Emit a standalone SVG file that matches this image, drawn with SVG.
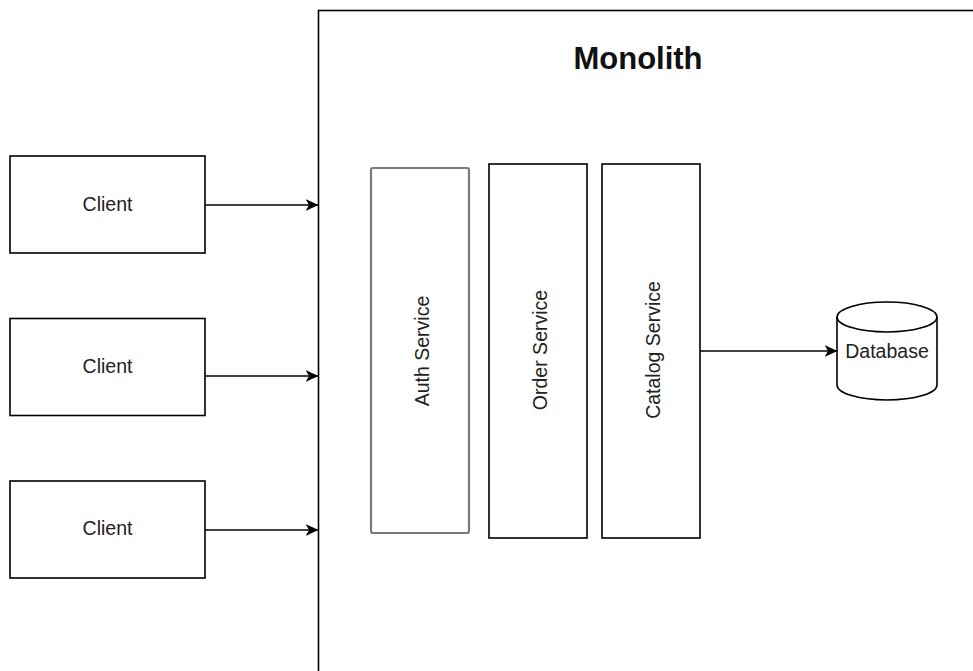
<svg xmlns="http://www.w3.org/2000/svg" width="973" height="671" viewBox="0 0 973 671">
<style>
.box{fill:#fff;stroke:#000;stroke-width:1.6}
.auth{fill:#fff;stroke:#7a7a7a;stroke-width:2.2}
.lbl{font-family:"Liberation Sans",Arial,sans-serif;font-size:19.5px;fill:#222;text-anchor:middle}
.title{font-family:"Liberation Sans",Arial,sans-serif;font-size:31px;font-weight:bold;fill:#111;text-anchor:middle}
.edge{fill:none;stroke:#000;stroke-width:1.6}
</style>
<defs>
<marker id="arr" viewBox="0 0 13 12" refX="12.5" refY="6" markerWidth="13" markerHeight="12" markerUnits="userSpaceOnUse" orient="auto">
<path d="M0,0 L13,6 L0,12 L3.5,6 Z" fill="#000"/>
</marker>
</defs>
<rect width="973" height="671" fill="#fff"/>
<g id="monolith">
<rect class="box" x="318.5" y="10.5" width="700" height="700"/>
<text class="title" x="638" y="69">Monolith</text>
</g>
<g id="client1">
<rect class="box" x="10" y="156" width="195" height="97"/>
<text class="lbl" x="107.5" y="211">Client</text>
</g>
<g id="client2">
<rect class="box" x="10" y="318.5" width="195" height="97"/>
<text class="lbl" x="107.5" y="373">Client</text>
</g>
<g id="client3">
<rect class="box" x="10" y="481" width="195" height="97"/>
<text class="lbl" x="107.5" y="535">Client</text>
</g>
<g id="auth">
<rect class="auth" x="371" y="168" width="98" height="365" rx="2"/>
<text class="lbl" transform="translate(421.5,351) rotate(-90)" y="7">Auth Service</text>
</g>
<g id="order">
<rect class="box" x="489" y="164" width="98" height="374"/>
<text class="lbl" transform="translate(539.5,350) rotate(-90)" y="7">Order Service</text>
</g>
<g id="catalog">
<rect class="box" x="602" y="164" width="98" height="374"/>
<text class="lbl" transform="translate(652.5,350) rotate(-90)" y="7">Catalog Service</text>
</g>
<g id="database">
<path class="box" d="M837,317 A50,15 0 0 1 937,317 L937,385 A50,15 0 0 1 837,385 Z" stroke-width="2"/>
<path class="edge" d="M837,317 A50,15 0 0 0 937,317" stroke-width="2"/>
<text class="lbl" x="887" y="358">Database</text>
</g>
<g id="connectors">
<path class="edge" d="M205,205 L318,205" marker-end="url(#arr)"/>
<path class="edge" d="M205,376 L318,376" marker-end="url(#arr)"/>
<path class="edge" d="M205,530 L318,530" marker-end="url(#arr)"/>
<path class="edge" d="M700,351 L837,351" marker-end="url(#arr)"/>
</g>
</svg>
